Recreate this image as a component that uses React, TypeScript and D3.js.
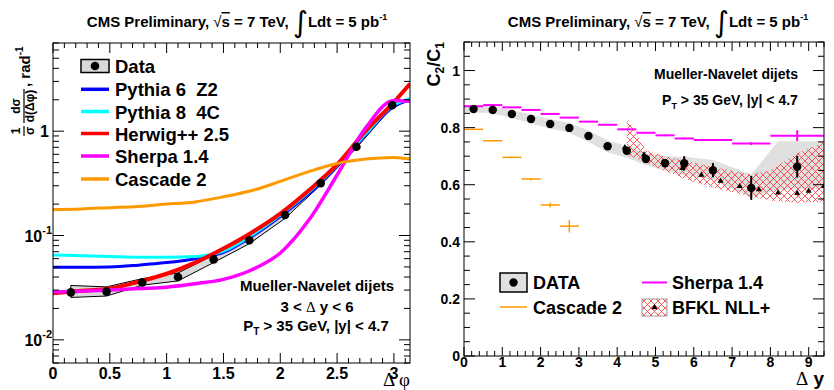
"use client";
import React, { useRef, useEffect } from "react";
import * as d3 from "d3";

const SANS = "'Liberation Sans', Arial, Helvetica, sans-serif";
const SERIF = "'Liberation Serif', 'DejaVu Serif', serif";

// ---- left panel: normalised d(sigma)/d(dphi), log scale
const phiGrid = [0, 0.25, 0.5, 0.75, 1.0, 1.25, 1.5, 1.75, 2.0, 2.25, 2.5, 2.75, 3.0, Math.PI];
const pythia6 = [0.0497, 0.0497, 0.05, 0.052, 0.055, 0.06, 0.069, 0.098, 0.152, 0.25, 0.46, 0.92, 1.72, 2.0];
const pythia8 = [0.065, 0.064, 0.063, 0.062, 0.062, 0.063, 0.071, 0.101, 0.157, 0.26, 0.47, 0.94, 1.78, 2.05];
const herwig = [0.028, 0.0295, 0.031, 0.036, 0.043, 0.055, 0.075, 0.107, 0.162, 0.27, 0.48, 1.0, 1.9, 2.85];
const sherpa = [0.0288, 0.0293, 0.03, 0.031, 0.032, 0.0345, 0.038, 0.047, 0.068, 0.14, 0.38, 1.07, 1.97, 1.94];
const cascade = [0.178, 0.18, 0.185, 0.19, 0.2, 0.21, 0.235, 0.27, 0.33, 0.41, 0.49, 0.54, 0.56, 0.54];
const modelNames = ["Pythia 6  Z2", "Pythia 8  4C", "Herwig++ 2.5", "Sherpa 1.4", "Cascade 2"];
const modelColors = ["#0000ff", "#00ffff", "#ff0000", "#ff00ff", "#ff9900"];
const modelWidths = [3, 3, 4, 3.5, 3];

const dataPhi = [0.157, 0.471, 0.785, 1.1, 1.414, 1.728, 2.042, 2.356, 2.67, 2.985];
const dataDsig = [0.0285, 0.029, 0.0355, 0.04, 0.059, 0.09, 0.157, 0.317, 0.71, 1.77];
const dataHi = [0.0332, 0.0322, 0.0386, 0.0438, 0.0648, 0.097, 0.168, 0.33, 0.735, 1.83];
const dataLo = [0.0255, 0.0263, 0.0334, 0.0367, 0.0551, 0.0836, 0.146, 0.305, 0.69, 1.71];
const phiTickLabels = ["0", "0.5", "1", "1.5", "2", "2.5", "3"];

// ---- right panel: C2/C1 vs dy
const dataDy = [0.25, 0.75, 1.25, 1.75, 2.25, 2.75, 3.25, 3.75, 4.25, 4.75, 5.25, 5.75, 6.5, 7.5, 8.7];
const dataC = [0.865, 0.862, 0.848, 0.83, 0.813, 0.799, 0.771, 0.735, 0.719, 0.69, 0.675, 0.675, 0.651, 0.589, 0.663];
const dataCErr = [0.003, 0.003, 0.003, 0.003, 0.003, 0.004, 0.004, 0.005, 0.008, 0.01, 0.012, 0.025, 0.025, 0.042, 0.038];
const bandDy = [0, 0.25, 0.75, 1.25, 1.75, 2.25, 2.75, 3.25, 3.75, 4.25, 4.75, 5.25, 5.75, 6.5, 7.5, 8.2, 8.7, 9.4];
const bandUp = [0.877, 0.877, 0.875, 0.862, 0.846, 0.83, 0.816, 0.79, 0.755, 0.736, 0.712, 0.7, 0.698, 0.687, 0.636, 0.752, 0.752, 0.752];
const bandLo = [0.853, 0.853, 0.85, 0.834, 0.815, 0.797, 0.782, 0.75, 0.713, 0.695, 0.668, 0.648, 0.635, 0.617, 0.556, 0.583, 0.585, 0.585];

const bfklDy = [4.25, 4.75, 5.25, 5.75, 6.5, 7.5, 8.0, 8.7, 9.4];
const bfklUp = [0.835, 0.72, 0.7, 0.685, 0.662, 0.636, 0.651, 0.71, 0.748];
const bfklLo = [0.705, 0.678, 0.648, 0.62, 0.59, 0.558, 0.545, 0.537, 0.54];
const bfklPtDy = [4.2, 4.7, 5.2, 5.7, 6.2, 6.7, 7.2, 7.7, 8.2, 8.7, 9.0, 9.4];
const bfklPtC = [0.73, 0.705, 0.68, 0.658, 0.634, 0.613, 0.595, 0.583, 0.572, 0.57, 0.578, 0.595];

const sherpaEdges = [0, 0.5, 1.0, 1.5, 2.0, 2.5, 3.0, 3.5, 4.0, 4.5, 5.0, 5.5, 6.0, 7.0, 8.0, 9.4];
const sherpaC = [0.875, 0.879, 0.871, 0.862, 0.848, 0.835, 0.821, 0.81, 0.794, 0.782, 0.773, 0.762, 0.757, 0.744, 0.772];
const sherpaErr = [0.002, 0.002, 0.002, 0.002, 0.002, 0.002, 0.002, 0.002, 0.002, 0.002, 0.003, 0.003, 0.003, 0.005, 0.019];
const cascEdges = [0, 0.5, 1.0, 1.5, 2.0, 2.5, 3.0];
const cascC = [0.794, 0.754, 0.696, 0.62, 0.529, 0.455];
const cascErr = [0.002, 0.002, 0.003, 0.004, 0.008, 0.022];
const c21TickLabels = ["0", "0.2", "0.4", "0.6", "0.8", "1"];

type G = d3.Selection<SVGGElement, unknown, null, undefined>;

export default function App() {
  const ref = useRef<SVGSVGElement>(null);

  useEffect(() => {
    if (!ref.current) return;
    const svg = d3.select(ref.current);
    svg.selectAll("*").remove();
    svg.style("font-family", SANS).style("font-weight", "bold");

    const defs = svg.append("defs");
    defs.append("clipPath").attr("id", "clipL")
      .append("rect").attr("x", 53).attr("y", 43).attr("width", 357).attr("height", 320);
    defs.append("clipPath").attr("id", "clipR")
      .append("rect").attr("x", 464).attr("y", 42).attr("width", 360).attr("height", 314);
    const pat = defs.append("pattern").attr("id", "hatch")
      .attr("patternUnits", "userSpaceOnUse").attr("width", 7).attr("height", 7);
    pat.append("path").attr("d", "M0,0L7,7M7,0L0,7")
      .attr("stroke", "#ff3030").attr("stroke-width", 0.8).attr("fill", "none");

    const root = svg.append("g") as unknown as G;
    const tick = (g: G, x1: number, y1: number, x2: number, y2: number) =>
      g.append("line").attr("x1", x1).attr("y1", y1).attr("x2", x2).attr("y2", y2)
        .attr("stroke", "#000").attr("stroke-width", 1);
    const txt = (g: G, x: number, y: number, s: string, size: number, anchor = "start") =>
      g.append("text").attr("x", x).attr("y", y).attr("font-size", size)
        .attr("text-anchor", anchor).style("white-space", "pre").text(s);

    const title = (cx: number) => {
      const t = root.append("text").attr("x", cx).attr("y", 27).attr("font-size", 15)
        .attr("text-anchor", "middle").style("white-space", "pre");
      t.append("tspan").text("CMS Preliminary, ");
      t.append("tspan").attr("font-weight", "normal").text("\u221A");
      t.append("tspan").style("text-decoration", "overline").text("s");
      t.append("tspan").text(" = 7 TeV, ");
      t.append("tspan").attr("font-family", "'DejaVu Sans'").attr("font-weight", "normal")
        .attr("font-size", 29).attr("dy", 5).text("\u222B");
      t.append("tspan").attr("dy", -5).text("Ldt = 5 pb");
      t.append("tspan").attr("font-size", 9).attr("dy", -7).text("-1");
    };

    // ================= LEFT PANEL =================
    const xL = d3.scaleLinear().domain([0, Math.PI]).range([53, 410]);
    const yL = d3.scaleLog().domain([0.006, 7]).range([363, 43]);
    const lp = root.append("g").attr("clip-path", "url(#clipL)") as unknown as G;

    const idx = d3.range(dataPhi.length);
    const band = d3.area<number>()
      .x(i => xL(dataPhi[i])).y0(i => yL(dataLo[i])).y1(i => yL(dataHi[i]));
    lp.append("path").attr("d", band(idx) as string)
      .attr("fill", "#d9d9d9").attr("stroke", "#000").attr("stroke-width", 1);

    const models = [pythia6, pythia8, herwig, sherpa, cascade];
    const curve = d3.line<number>()
      .x((_, i) => xL(phiGrid[i])).y(v => yL(v)).curve(d3.curveMonotoneX);
    models.forEach((vals, m) => {
      lp.append("path").attr("d", curve(vals) as string).attr("fill", "none")
        .attr("stroke", modelColors[m]).attr("stroke-width", modelWidths[m]);
    });
    idx.forEach(i => {
      lp.append("circle").attr("cx", xL(dataPhi[i])).attr("cy", yL(dataDsig[i]))
        .attr("r", 4.3).attr("fill", "#000");
    });

    // frame + ticks
    root.append("rect").attr("x", 53).attr("y", 43).attr("width", 357).attr("height", 320)
      .attr("fill", "none").attr("stroke", "#000").attr("stroke-width", 1);
    for (let k = 0; k <= 31; k++) {
      const v = k / 10;
      const len = k % 5 === 0 ? 10 : 5;
      tick(root, xL(v), 363, xL(v), 363 - len);
      tick(root, xL(v), 43, xL(v), 43 + len);
    }
    [0.001, 0.01, 0.1, 1].forEach(dec => {
      for (let k = 1; k <= 9; k++) {
        const v = k * dec;
        if (v < 0.006 || v > 7) continue;
        const len = k === 1 ? 11 : 6;
        tick(root, 53, yL(v), 53 + len, yL(v));
        tick(root, 410, yL(v), 410 - len, yL(v));
      }
    });
    phiTickLabels.forEach(s => txt(root, xL(+s), 379, s, 16, "middle"));
    txt(root, 49, yL(1) + 6, "1", 16, "end");
    [["10", "-1", 0.1], ["10", "-2", 0.01]].forEach(([b, e, v]) => {
      const t = root.append("text").attr("x", 52).attr("y", yL(v as number) + 6)
        .attr("font-size", 16).attr("text-anchor", "end");
      t.append("tspan").text(b as string);
      t.append("tspan").attr("font-size", 11).attr("dy", -8).text(e as string);
    });

    // x title
    const xt = root.append("text").attr("x", 410).attr("y", 386).attr("font-size", 19)
      .attr("text-anchor", "end").style("white-space", "pre");
    xt.append("tspan").attr("font-family", SERIF).attr("font-weight", "normal").text("\u0394 \u03C6");

    // y title (fraction form, rotated)
    const yt = root.append("g").attr("transform", "translate(24,0) rotate(-90)") as unknown as G;
    const frac = (cx: number, num: string, den: string, half: number) => {
      yt.append("text").attr("x", cx).attr("y", -4).attr("font-size", 12)
        .attr("text-anchor", "middle").text(num);
      yt.append("text").attr("x", cx).attr("y", 10).attr("font-size", 12)
        .attr("text-anchor", "middle").text(den);
      yt.append("line").attr("x1", cx - half).attr("x2", cx + half).attr("y1", 0).attr("y2", 0)
        .attr("stroke", "#000").attr("stroke-width", 1.2);
    };
    frac(-131, "1", "\u03C3", 5);
    frac(-106, "d\u03C3", "d(\u0394\u03C6)", 17);
    const rt = yt.append("text").attr("x", -87).attr("y", 6).attr("font-size", 15)
      .style("white-space", "pre");
    rt.append("tspan").text(", rad");
    rt.append("tspan").attr("font-size", 10).attr("dy", -7).text("-1");

    // legend
    const legY = [66, 89.3, 111.5, 133.5, 156, 179];
    root.append("rect").attr("x", 81).attr("y", 59.5).attr("width", 28).attr("height", 13)
      .attr("fill", "#d9d9d9").attr("stroke", "#000").attr("stroke-width", 1.5);
    root.append("circle").attr("cx", 95).attr("cy", 66).attr("r", 4.3).attr("fill", "#000");
    txt(root, 115, legY[0] + 7, "Data", 18.5);
    modelNames.forEach((n, m) => {
      const y = legY[m + 1];
      tick(root, 81, y, 109, y).attr("stroke", modelColors[m]).attr("stroke-width", 3.5);
      txt(root, 115, y + 7, n, 18.5);
    });

    txt(root, 317, 291, "Mueller-Navelet dijets", 15, "middle");
    const dyT = root.append("text").attr("x", 317).attr("y", 312).attr("font-size", 15)
      .attr("text-anchor", "middle").style("white-space", "pre");
    dyT.append("tspan").text("3 < ");
    dyT.append("tspan").attr("font-family", SERIF).attr("font-weight", "normal").text("\u0394");
    dyT.append("tspan").text(" y < 6");
    const ptL = root.append("text").attr("x", 316).attr("y", 331).attr("font-size", 15)
      .attr("text-anchor", "middle").style("white-space", "pre");
    ptL.append("tspan").text("P");
    ptL.append("tspan").attr("font-size", 10).attr("dy", 4).text("T");
    ptL.append("tspan").attr("dy", -4).text(" > 35 GeV, |y| < 4.7");

    title(237);

    // ================= RIGHT PANEL =================
    const xR = d3.scaleLinear().domain([0, 9.4]).range([464, 824]);
    const yR = d3.scaleLinear().domain([0, 1.1]).range([356, 42]);
    const rp = root.append("g").attr("clip-path", "url(#clipR)") as unknown as G;

    const bIdx = d3.range(bandDy.length);
    rp.append("path").attr("d", d3.area<number>()
      .x(i => xR(bandDy[i])).y0(i => yR(bandLo[i])).y1(i => yR(bandUp[i]))(bIdx) as string)
      .attr("fill", "#e0e0e0");
    const hIdx = d3.range(bfklDy.length);
    rp.append("path").attr("d", d3.area<number>()
      .x(i => xR(bfklDy[i])).y0(i => yR(bfklLo[i])).y1(i => yR(bfklUp[i]))(hIdx) as string)
      .attr("fill", "url(#hatch)");
    const tri = d3.symbol().type(d3.symbolTriangle).size(16);
    bfklPtDy.forEach((d, i) => {
      rp.append("path").attr("d", tri() as string)
        .attr("transform", `translate(${xR(d)},${yR(bfklPtC[i])})`).attr("fill", "#000");
    });

    const bins = (edges: number[], vals: number[], errs: number[], color: string, w: number) => {
      vals.forEach((v, i) => {
        const mid = (edges[i] + edges[i + 1]) / 2;
        tick(rp, xR(edges[i]), yR(v), xR(edges[i + 1]), yR(v)).attr("stroke", color).attr("stroke-width", w);
        tick(rp, xR(mid), yR(v - errs[i]), xR(mid), yR(v + errs[i])).attr("stroke", color).attr("stroke-width", w);
      });
    };
    bins(cascEdges, cascC, cascErr, "#ff9900", 1.5);
    bins(sherpaEdges, sherpaC, sherpaErr, "#ff00ff", 2);

    dataDy.forEach((d, i) => {
      tick(rp, xR(d), yR(dataC[i] - dataCErr[i]), xR(d), yR(dataC[i] + dataCErr[i])).attr("stroke-width", 2);
      rp.append("circle").attr("cx", xR(d)).attr("cy", yR(dataC[i])).attr("r", 4.2).attr("fill", "#000");
    });

    root.append("rect").attr("x", 464).attr("y", 42).attr("width", 360).attr("height", 314)
      .attr("fill", "none").attr("stroke", "#000").attr("stroke-width", 1);
    for (let k = 0; k <= 47; k++) {
      const v = k / 5;
      const len = k % 5 === 0 ? 9 : 5;
      tick(root, xR(v), 356, xR(v), 356 - len);
      tick(root, xR(v), 42, xR(v), 42 + len);
    }
    for (let k = 0; k <= 22; k++) {
      const v = k * 0.05;
      const len = k % 4 === 0 ? 11 : 6;
      tick(root, 464, yR(v), 464 + len, yR(v));
      tick(root, 824, yR(v), 824 - len, yR(v));
    }
    c21TickLabels.forEach(s => txt(root, 460, yR(+s) + 5, s, 14, "end"));
    d3.range(10).forEach(k => txt(root, xR(k), 367, String(k), 14, "middle"));

    const xtR = root.append("text").attr("x", 824).attr("y", 385).attr("font-size", 19)
      .attr("text-anchor", "end").style("white-space", "pre");
    xtR.append("tspan").attr("font-family", SERIF).attr("font-weight", "normal").text("\u0394");
    xtR.append("tspan").text(" y");

    const ytR = root.append("text").attr("transform", "translate(440,42) rotate(-90)")
      .attr("font-size", 18).attr("text-anchor", "end");
    ytR.append("tspan").text("C");
    ytR.append("tspan").attr("font-size", 12).attr("dy", 4).text("2");
    ytR.append("tspan").attr("dy", -4).text("/C");
    ytR.append("tspan").attr("font-size", 12).attr("dy", 4).text("1");

    txt(root, 726, 79, "Mueller-Navelet dijets", 14, "middle");
    const ptR = root.append("text").attr("x", 730).attr("y", 105).attr("font-size", 14)
      .attr("text-anchor", "middle").style("white-space", "pre");
    ptR.append("tspan").text("P");
    ptR.append("tspan").attr("font-size", 9).attr("dy", 4).text("T");
    ptR.append("tspan").attr("dy", -4).text(" > 35 GeV, |y| < 4.7");

    // legend
    root.append("rect").attr("x", 500).attr("y", 273).attr("width", 27).attr("height", 19)
      .attr("fill", "#e0e0e0").attr("stroke", "#000").attr("stroke-width", 1.5);
    root.append("circle").attr("cx", 513.5).attr("cy", 282.5).attr("r", 4.2).attr("fill", "#000");
    txt(root, 533, 289, "DATA", 18);
    tick(root, 642, 282.5, 667, 282.5).attr("stroke", "#ff00ff").attr("stroke-width", 2);
    txt(root, 672, 289, "Sherpa 1.4", 18);
    tick(root, 500, 307, 527, 307).attr("stroke", "#ff9900").attr("stroke-width", 1.5);
    txt(root, 533, 313.5, "Cascade 2", 18);
    root.append("rect").attr("x", 642).attr("y", 299).attr("width", 25).attr("height", 17)
      .attr("fill", "url(#hatch)").attr("stroke", "#999").attr("stroke-width", 1);
    root.append("path").attr("d", tri() as string).attr("transform", "translate(654.5,307.5)").attr("fill", "#000");
    txt(root, 672, 313.5, "BFKL NLL+", 18);

    title(658);
  }, []);

  return (
    <div style={{ position: "absolute", left: 0, top: 0 }}>
      <svg ref={ref} width={834} height={390} />
    </div>
  );
}
